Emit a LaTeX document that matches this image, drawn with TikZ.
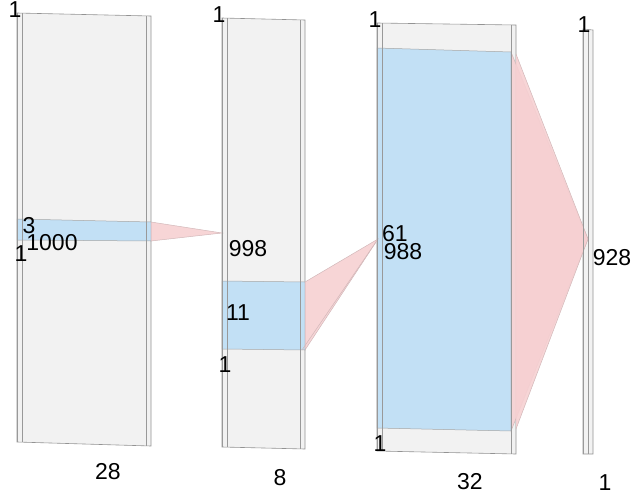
\documentclass[tikz,border=0pt]{standalone}
\usepackage{fontspec}
\setmainfont{Liberation Sans}
\definecolor{slabgray}{RGB}{242,242,242}
\definecolor{fmapblue}{RGB}{194,224,245}
\definecolor{convpink}{RGB}{246,208,210}

\begin{document}
\begin{tikzpicture}
  [x=1pt, y=-1pt,
  slab/.style={draw=gray!85, fill=slabgray, line width=0.6pt},
  fmap/.style={fill=fmapblue, draw=gray!70, line width=0.5pt},
  cone/.style={fill=convpink, fill opacity=0.9, draw=convpink!70!gray, line width=0.5pt},
  edge/.style={draw=gray!80, line width=0.5pt},
  lbl/.style={inner sep=0pt, font=\fontsize{23}{23}\selectfont}]
  \useasboundingbox (0,0) rectangle (633,501);
  % slabs
  \foreach \xa/\xb/\ya/\yb/\yc/\yd in {17/151/13/16/442/446, 222/305/18/20/447/449,
      377/516/23/25/451/454, 583/593/29/30/454/454}
    \draw[slab] (\xa,\ya) -- (\xb,\yb) -- (\xb,\yd) -- (\xa,\yc) -- cycle;
  % feature windows
  \filldraw[fmap] (17,219) -- (151,222) -- (151,241) -- (17,240) -- cycle;
  \filldraw[fmap] (222,281) -- (305,282) -- (305,350) -- (222,349) -- cycle;
  \filldraw[fmap] (377,48) -- (511,52) -- (511,431) -- (377,428) -- cycle;
  % cones
  \coordinate (a1) at (222,233);
  \coordinate (a2) at (378,239);
  \coordinate (a3) at (588,239);
  \filldraw[cone] (151,222) -- (a1) -- (151,241) -- cycle;
  \filldraw[cone] (305,282) -- (a2) -- (305,350) -- cycle;
  \draw[cone] (302,350) -- (a2);
  \filldraw[cone] (511,52) -- (a3) -- (511,431) -- cycle;
  \draw[cone] (516,54) -- (a3) -- (516,429);
  % inner edges
  \foreach \xa/\xb/\ya/\yb/\yc/\yd in {17/151/13/16/442/446, 222/305/18/20/447/449,
      377/516/23/25/451/454, 583/593/29/30/454/454}
    \draw[edge] (\xa+5,\ya) -- (\xa+5,\yc) (\xb-5,\yb) -- (\xb-5,\yd)
      (\xa,\ya) -- (\xa,\yc);
  % labels
  \node[lbl] (t1) at (15,10) {1};
  \node[lbl] (h1) at (29,226) {3};
  \node[lbl] (d1) at (52,243) {1000};
  \node[lbl] (w1) at (21,254) {1};
  \node[lbl] (t2) at (219,15) {1};
  \node[lbl] (d2) at (248,249) {998};
  \node[lbl] (h2) at (238,313) {11};
  \node[lbl] (w2) at (225,365) {1};
  \node[lbl] (t3) at (375,20) {1};
  \node[lbl] (h3) at (395,234) {61};
  \node[lbl] (d3) at (403,252) {988};
  \node[lbl] (w3) at (380,444) {1};
  \node[lbl] (t4) at (584,25) {1};
  \node[lbl] (d4) at (612,258) {928};
  \node[lbl] (n1) at (108,472) {28};
  \node[lbl] (n2) at (280,478) {8};
  \node[lbl] (n3) at (470,482) {32};
  \node[lbl] (n4) at (605,483) {1};
\end{tikzpicture}
\end{document}
